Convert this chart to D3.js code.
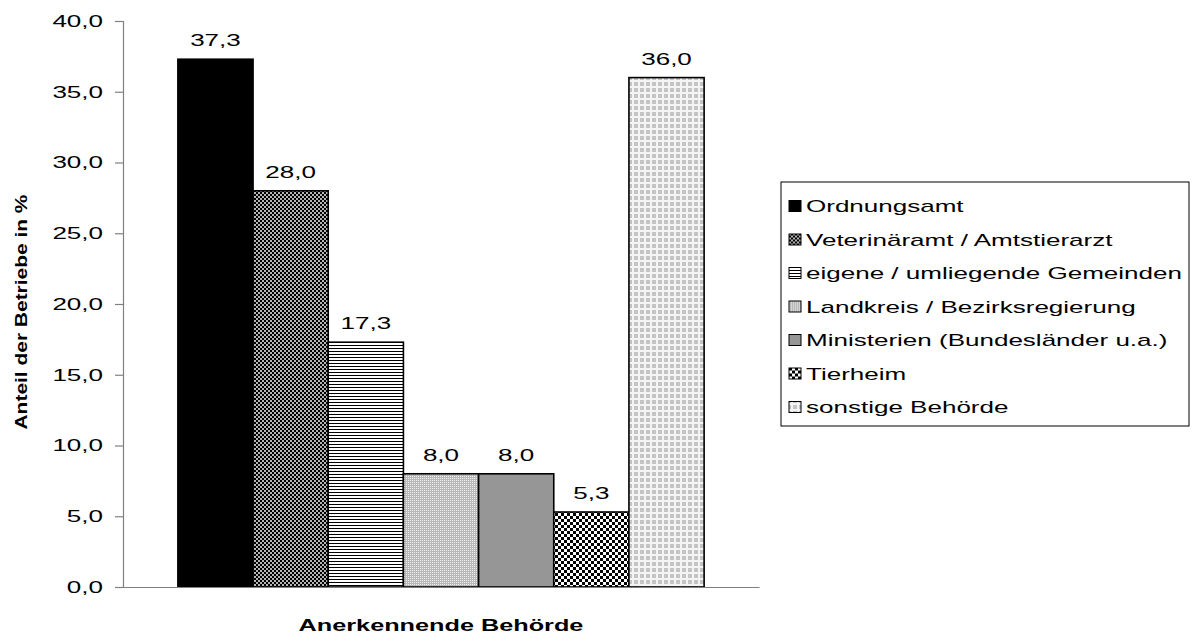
<!DOCTYPE html>
<html><head><meta charset="utf-8">
<script src="https://cdn.jsdelivr.net/npm/d3@7"></script>
<style>body{margin:0;background:#fff}svg{display:block}text{font-family:"Liberation Sans",Arial,sans-serif}</style>
</head><body>
<svg id="c" width="1192" height="636"></svg>
<script>
const categories = ["Ordnungsamt","Veterinäramt / Amtstierarzt","eigene / umliegende Gemeinden","Landkreis / Bezirksregierung","Ministerien (Bundesländer u.a.)","Tierheim","sonstige Behörde"];
const values = [37.3, 28.0, 17.3, 8.0, 8.0, 5.3, 36.0];
const yTicks = [0,5,10,15,20,25,30,35,40];
const patternIds = ["solid","vet","horiz","dots","gray","checker","plus"];

(function(){
const STRETCH = 1.53;
const svg = d3.select("#c");
const defs = svg.append("defs");
function pat(id,w,h,draw){const p=defs.append("pattern").attr("id",id).attr("patternUnits","userSpaceOnUse").attr("width",w).attr("height",h);draw(p);}
pat("solid",4,4,p=>p.append("rect").attr("width",4).attr("height",4).attr("fill","#000"));
pat("vet",4,4,p=>{p.append("rect").attr("width",4).attr("height",4).attr("fill","#b4b4b4");
  p.append("rect").attr("width",2).attr("height",2).attr("fill","#000");
  p.append("rect").attr("x",2).attr("y",2).attr("width",2).attr("height",2).attr("fill","#000");});
pat("horiz",3,3,p=>{p.append("rect").attr("width",3).attr("height",3).attr("fill","#fff");
  p.append("rect").attr("width",3).attr("height",1).attr("fill","#000");});
pat("dots",2,2,p=>{p.append("rect").attr("width",2).attr("height",2).attr("fill","#b8b8b8");
  p.append("rect").attr("width",1).attr("height",1).attr("fill","#f0f0f0");});
pat("gray",4,4,p=>p.append("rect").attr("width",4).attr("height",4).attr("fill","#969696"));
pat("checker",6,6,p=>{p.append("rect").attr("width",6).attr("height",6).attr("fill","#fff");
  p.append("rect").attr("width",3).attr("height",3).attr("fill","#000");
  p.append("rect").attr("x",3).attr("y",3).attr("width",3).attr("height",3).attr("fill","#000");});
pat("plus",6,6,p=>{p.append("rect").attr("width",6).attr("height",6).attr("fill","#c4c4c4");
  p.append("rect").attr("x",2).attr("y",0).attr("width",2).attr("height",6).attr("fill","#f4f4f4");
  p.append("rect").attr("x",0).attr("y",2).attr("width",6).attr("height",2).attr("fill","#f4f4f4");});

function widen(sel, factor){
  sel.each(function(){const len=this.getComputedTextLength();
    d3.select(this).attr("textLength",len*factor).attr("lengthAdjust","spacingAndGlyphs");});
}

const pLeft=123,pRight=759,pTop=21,pBottom=587;
const x = d3.scaleBand().domain(categories).range([pLeft,pRight]).paddingInner(0).paddingOuter(0.73);
const y = d3.scaleLinear().domain([0,40]).range([pBottom,pTop]);
const fmt = v => d3.format(".1f")(v).replace(".",",");

svg.append("g").selectAll("rect").data(categories).join("rect")
  .attr("x",d=>x(d)).attr("width",x.bandwidth())
  .attr("y",(d,i)=>y(values[i])).attr("height",(d,i)=>y(0)-y(values[i]))
  .attr("fill",(d,i)=>`url(#${patternIds[i]})`).attr("stroke","#000").attr("stroke-width",1.6);

const labels = svg.append("g").selectAll("text").data(categories).join("text")
  .attr("x",d=>x(d)+x.bandwidth()/2).attr("y",(d,i)=>y(values[i])-13)
  .attr("text-anchor","middle").attr("font-size",17).attr("fill","#000")
  .text((d,i)=>fmt(values[i]));
widen(labels, STRETCH);

const ya = svg.append("g").attr("transform",`translate(${pLeft},0)`)
  .call(d3.axisLeft(y).tickValues(yTicks).tickSize(8).tickPadding(12).tickFormat(fmt));
ya.select(".domain").attr("stroke","#808080").attr("stroke-width",1.2);
ya.selectAll(".tick line").attr("stroke","#808080").attr("stroke-width",1.2);
ya.selectAll(".tick text").attr("font-size",17).attr("fill","#000").attr("font-family","Liberation Sans, Arial, sans-serif");
widen(ya.selectAll(".tick text"), STRETCH);

const xa = svg.append("g").attr("transform",`translate(0,${pBottom})`)
  .call(d3.axisBottom(x).tickSize(0).tickFormat(""));
xa.select(".domain").attr("stroke","#808080").attr("stroke-width",1.2);

const xt = svg.append("text").attr("x",(pLeft+pRight)/2).attr("y",631).attr("text-anchor","middle")
  .attr("font-size",16.5).attr("font-weight","bold").attr("fill","#000").text("Anerkennende Behörde");
widen(xt, STRETCH);
const yt = svg.append("text").attr("transform",`translate(27,312) rotate(-90)`).attr("text-anchor","middle")
  .attr("font-size",17).attr("font-weight","bold").attr("fill","#000").text("Anteil der Betriebe in %");
yt.attr("textLength",235).attr("lengthAdjust","spacingAndGlyphs");

const lg = svg.append("g");
lg.append("rect").attr("x",781).attr("y",182).attr("width",408).attr("height",244)
  .attr("fill","#fff").attr("stroke","#000").attr("stroke-width",1);
const rowY = d3.scalePoint().domain(categories).range([206,407]);
const items = lg.selectAll("g.item").data(categories).join("g").attr("class","item")
  .attr("transform",d=>`translate(789,${rowY(d)})`);
items.append("rect").attr("x",0).attr("y",-5.5).attr("width",12).attr("height",11)
  .attr("fill",(d,i)=>`url(#${patternIds[i]})`).attr("stroke","#000").attr("stroke-width",1);
const lt = items.append("text").attr("x",17).attr("y",6).attr("font-size",17).attr("fill","#000").text(d=>d);
widen(lt, STRETCH);
})();
</script>
</body></html>
